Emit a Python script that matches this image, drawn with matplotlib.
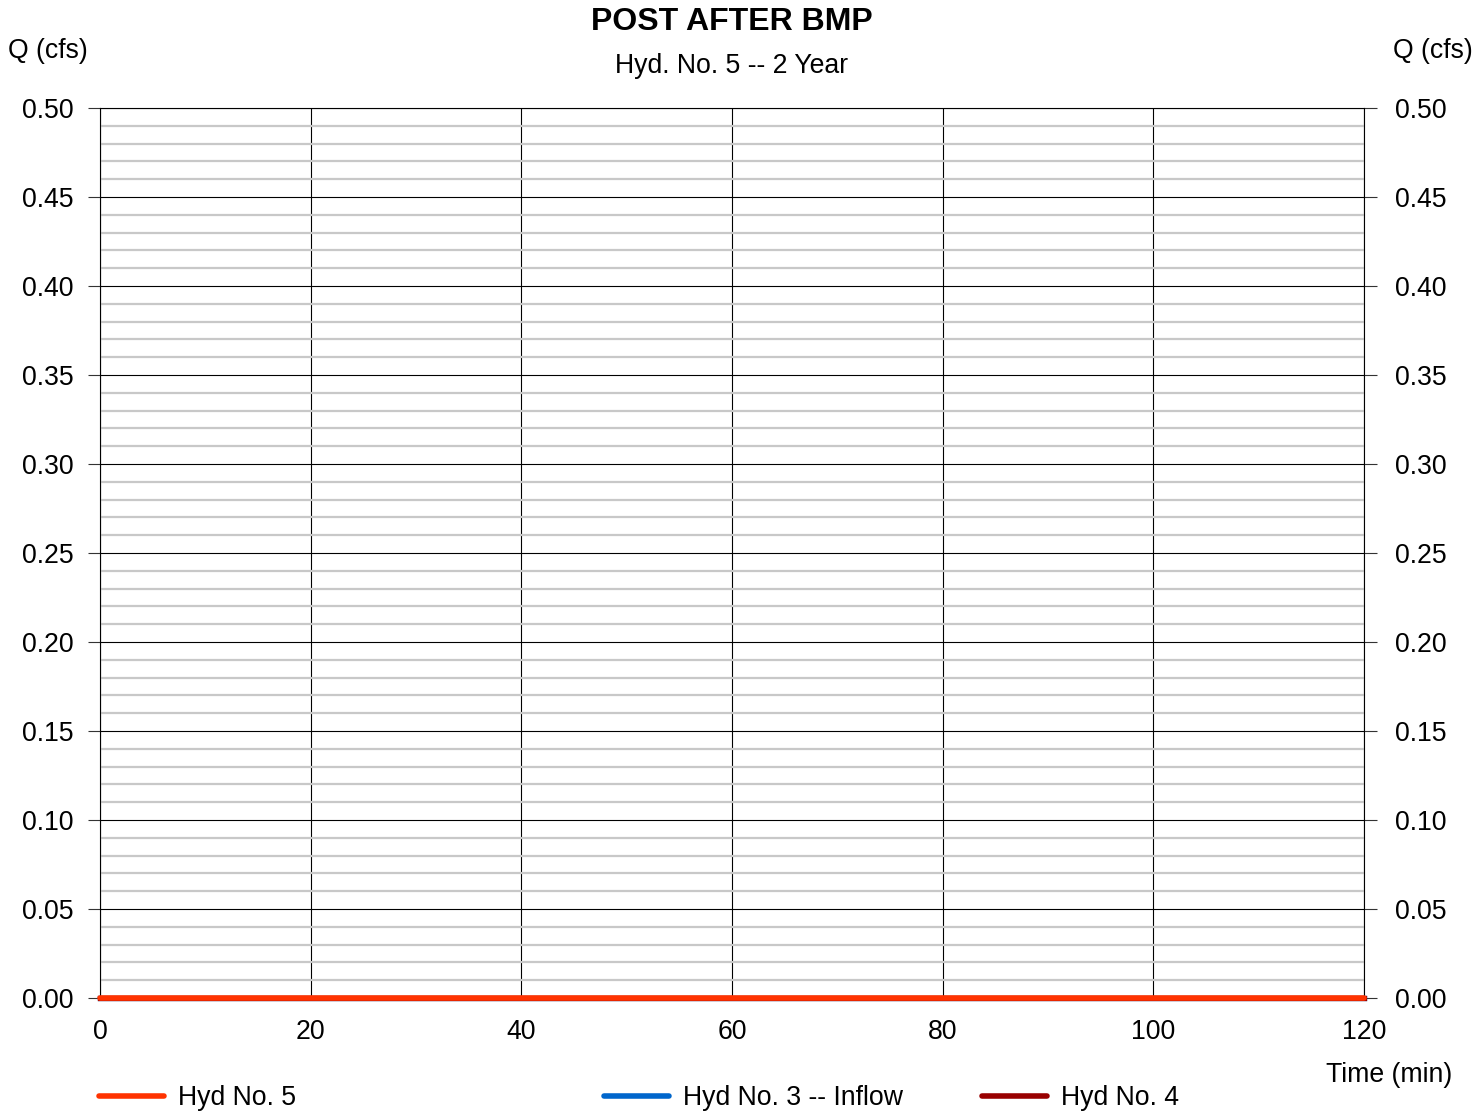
import matplotlib
matplotlib.use("Agg")
import matplotlib.pyplot as plt
from matplotlib.lines import Line2D
import numpy as np

plt.rcParams['font.family'] = ['Liberation Sans', 'DejaVu Sans']

# Data
time_min = [0, 20, 40, 60, 80, 100, 120]
hyd5 = [0, 0, 0, 0, 0, 0, 0]
hyd3_inflow = [0, 0, 0, 0, 0, 0, 0]
hyd4 = [0, 0, 0, 0, 0, 0, 0]
series_labels = ["Hyd No. 5", "Hyd No. 3 -- Inflow", "Hyd No. 4"]
series_colors = ["#ff3300", "#0066cc", "#990000"]
x_ticks = [0, 20, 40, 60, 80, 100, 120]
y_ticks = [0.00, 0.05, 0.10, 0.15, 0.20, 0.25, 0.30, 0.35, 0.40, 0.45, 0.50]

FS = 19.2

fig = plt.figure(figsize=(14.73, 11.14), dpi=100)
ax = fig.add_axes([100/1473, 1-998/1114, (1364-100)/1473, (998-108)/1114])

ax.set_xlim(0, 120)
ax.set_ylim(0, 0.5)

# minor grid
ax.set_yticks(np.round(np.arange(0, 0.5001, 0.01), 2), minor=True)
ax.grid(which='minor', axis='y', color='#c8c8c8', linewidth=1.6, zorder=0)
ax.grid(which='major', axis='both', color='black', linewidth=0.8, zorder=1)
ax.tick_params(which='minor', length=0)

ax.set_xticks(x_ticks)
ax.set_xticklabels([str(t) for t in x_ticks])
ax.set_yticks(y_ticks)
ax.set_yticklabels([f"{v:.2f}" for v in y_ticks])
ax.tick_params(axis='y', which='major', length=9, width=0.8, color='#333333',
               labelsize=FS, pad=10, left=True, right=True, labelleft=True, labelright=True)
ax.tick_params(axis='x', which='major', length=0, labelsize=FS, pad=15)
for t in ax.yaxis.get_major_ticks():
    t.label2.set_x(1.0)
    t.label2.set_transform(ax.get_yaxis_transform() + matplotlib.transforms.ScaledTranslation(31/100, 0, fig.dpi_scale_trans))

for s in ax.spines.values():
    s.set_linewidth(0.8)
    s.set_color('black')

l3, = ax.plot(time_min, hyd3_inflow, color=series_colors[1], linewidth=3.8, zorder=3, clip_on=False)
l4, = ax.plot(time_min, hyd4, color=series_colors[2], linewidth=3.8, zorder=4, clip_on=False)
l5, = ax.plot(time_min, hyd5, color=series_colors[0], linewidth=4.0, zorder=5,
              solid_capstyle='round', clip_on=False)

# Titles
fig.text(732/1473, 1-22/1114, "POST AFTER BMP", ha='center', va='center',
         fontsize=23, fontweight='bold')
fig.text(732/1473, 1-66/1114, "Hyd. No. 5 -- 2 Year", ha='center', va='center', fontsize=FS)
fig.text(8/1473, 1-51/1114, "Q (cfs)", ha='left', va='center', fontsize=FS)
fig.text(1473/1473, 1-51/1114, "Q (cfs)", ha='right', va='center', fontsize=FS)
fig.text(1452/1473, 1-1075/1114, "Time (min)", ha='right', va='center', fontsize=FS)

# Legend entries
leg_x = [99/1473, 604/1473, 982/1473]
for lab, c, lx in zip(series_labels, series_colors, leg_x):
    proxy = Line2D([], [], color=c, linewidth=4.0, solid_capstyle='round')
    fig.legend(handles=[proxy], labels=[lab], loc='center left',
               bbox_to_anchor=(lx, 1-1098/1114), frameon=False, fontsize=FS,
               handlelength=2.45, handletextpad=0.5, borderpad=0, borderaxespad=0)

fig.savefig("out.png", dpi=100)
